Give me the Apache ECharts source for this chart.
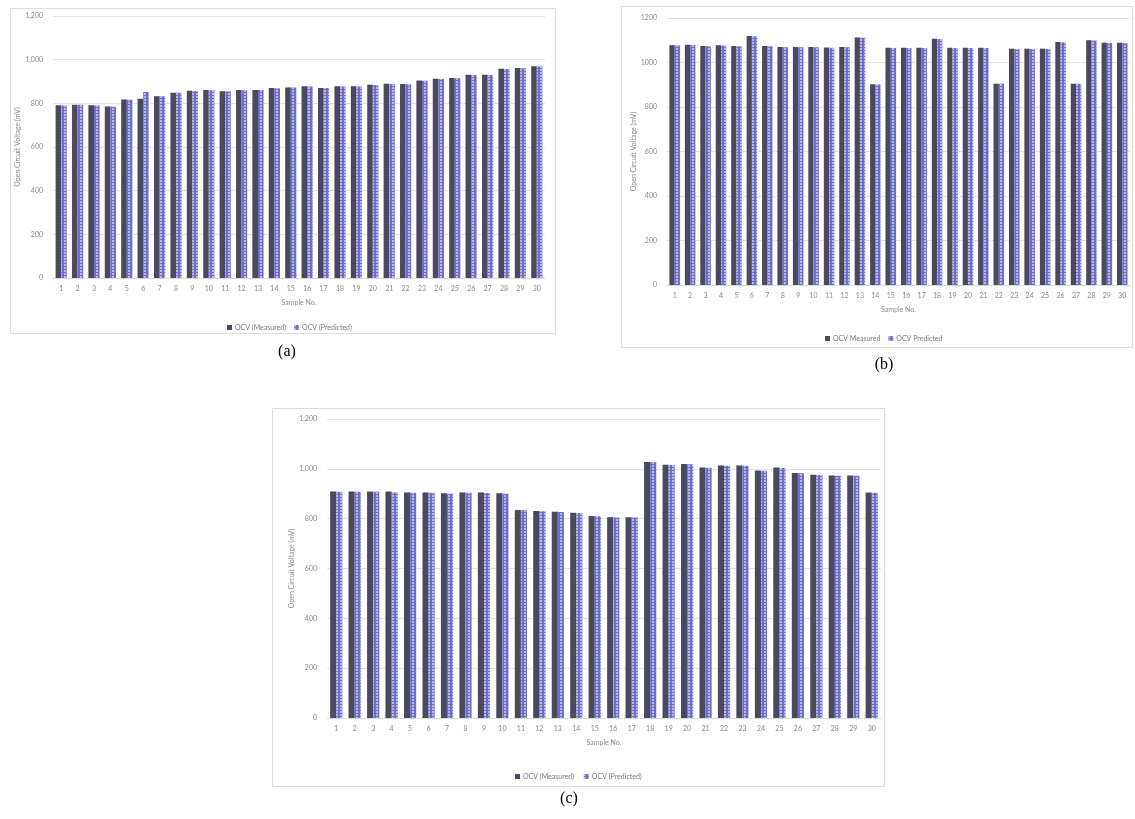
<!DOCTYPE html>
<html>
<head>
<meta charset="utf-8">
<script src="https://cdn.jsdelivr.net/npm/echarts@6/dist/echarts.min.js"></script>
<style>
  html, body { margin: 0; padding: 0; background: #fff; }
  #chart { width: 1135px; height: 819px; }
</style>
</head>
<body>
<div id="chart"></div>
<script>
// Sample numbers shared by all three panels
const samples = ['1','2','3','4','5','6','7','8','9','10','11','12','13','14','15',
  '16','17','18','19','20','21','22','23','24','25','26','27','28','29','30'];

// Panel (a) open circuit voltage, mV
const aMeasured  = [791,794,791,786,817,821,833,849,858,861,855,861,861,870,873,878,870,878,878,885,890,888,905,913,916,931,931,958,962,970];
const aPredicted = [790,793,790,784,816,852,832,848,857,860,855,860,861,869,872,877,870,877,877,884,889,887,904,912,915,930,930,957,961,969];

// Panel (b) open circuit voltage, mV
const bMeasured  = [1077,1080,1074,1077,1074,1119,1074,1070,1070,1070,1067,1070,1112,902,1066,1066,1066,1107,1066,1066,1066,905,1062,1062,1062,1092,905,1100,1089,1089];
const bPredicted = [1076,1079,1073,1076,1073,1118,1073,1069,1069,1069,1066,1069,1111,901,1065,1065,1065,1106,1065,1065,1065,904,1061,1061,1061,1091,904,1099,1088,1088];

// Panel (c) open circuit voltage, mV
const cMeasured  = [909,909,909,909,905,905,902,905,905,902,835,831,828,824,811,806,806,1027,1016,1019,1005,1013,1013,993,1005,983,976,973,973,905];
const cPredicted = [908,908,908,905,904,904,900,904,903,900,834,830,827,823,810,805,805,1026,1015,1018,1004,1012,1012,992,1003,982,975,972,972,904];

// Y axis ticks
const yMin = 0, yMax = 1200, yStep = 200;

const names = {
  a: ['OCV (Measured)', 'OCV (Predicted)'],
  b: ['OCV Measured', 'OCV Predicted'],
  c: ['OCV (Measured) ', 'OCV (Predicted) ']
};

const FONT = 'Lato, "Open Sans", sans-serif';
const MEAS_COLOR = '#4b4b55';
const PRED_COLOR = '#6e6ed2';

function xAxis(gridIndex) {
  return {
    type: 'category', gridIndex, data: samples,
    name: 'Sample No.', nameLocation: 'middle', nameGap: 21,
    nameTextStyle: { fontFamily: FONT, fontSize: 7, color: '#8a8a8a' },
    axisLine: { lineStyle: { color: '#d9d9d9' } },
    axisTick: { show: false },
    axisLabel: { fontFamily: FONT, fontSize: 7, color: '#8a8a8a', margin: 7, interval: 0 }
  };
}

function yAxis(gridIndex, comma) {
  return {
    type: 'value', gridIndex, min: yMin, max: yMax, interval: yStep,
    name: 'Open Circuit Voltage (mV)', nameLocation: 'middle', nameGap: 28,
    nameTextStyle: { fontFamily: FONT, fontSize: 7, color: '#8a8a8a' },
    axisLine: { show: false }, axisTick: { show: false },
    splitLine: { lineStyle: { color: '#e3e3e3', width: 1 } },
    axisLabel: {
      fontFamily: FONT, fontSize: 7, color: '#8a8a8a', margin: 10,
      formatter: v => comma ? v.toLocaleString('en-US') : String(v)
    }
  };
}

function barPair(idx, nm, meas, pred, gap) {
  return [
    {
      name: nm[0], type: 'bar', xAxisIndex: idx, yAxisIndex: idx, data: meas,
      barGap: '0%', barCategoryGap: gap,
      itemStyle: {
        color: MEAS_COLOR,
        decal: { symbol: 'circle', symbolSize: 0.9, color: 'rgba(70,70,150,0.6)', dashArrayX: [2, 2], dashArrayY: [2, 1] }
      }
    },
    {
      name: nm[1], type: 'bar', xAxisIndex: idx, yAxisIndex: idx, data: pred,
      barGap: '0%', barCategoryGap: gap,
      itemStyle: {
        color: PRED_COLOR,
        decal: { symbol: 'circle', symbolSize: 0.9, color: 'rgba(255,255,255,0.75)', dashArrayX: [2, 2], dashArrayY: [2, 1] }
      }
    }
  ];
}

function legend(nm, left, top) {
  return {
    data: nm, left, top, itemWidth: 5, itemHeight: 5, itemGap: 8,
    icon: 'rect',
    textStyle: { fontFamily: FONT, fontSize: 7, color: '#7a7a7a', padding: [0, 0, 0, -2] }
  };
}

function frame(x, y, w, h) {
  return { type: 'rect', shape: { x, y, width: w, height: h }, style: { fill: 'none', stroke: '#dcdcdc', lineWidth: 1 }, silent: true };
}

function caption(text, x, y) {
  return { type: 'text', x, y, style: { text, font: '16px "Liberation Serif", serif', fill: '#000', textAlign: 'center', textVerticalAlign: 'middle' } };
}

const chart = echarts.init(document.getElementById('chart'), null, { renderer: 'canvas' });
chart.setOption({
  backgroundColor: '#fff',
  animation: false,
  grid: [
    { left: 53, right: 1135 - 545, top: 16, bottom: 819 - 278 },
    { left: 667, right: 1135 - 1130, top: 18, bottom: 819 - 285 },
    { left: 327, right: 1135 - 881, top: 419, bottom: 819 - 718 }
  ],
  xAxis: [xAxis(0), xAxis(1), xAxis(2)],
  yAxis: [yAxis(0, true), yAxis(1, false), yAxis(2, true)],
  legend: [legend(names.a, 222, 319), legend(names.b, 820, 330), legend(names.c, 510, 768)],
  series: [
    ...barPair(0, names.a, aMeasured, aPredicted, '32%'),
    ...barPair(1, names.b, bMeasured, bPredicted, '32%'),
    ...barPair(2, names.c, cMeasured, cPredicted, '34%')
  ],
  graphic: [
    frame(10.5, 8.5, 545, 325),
    frame(621.5, 6.5, 511, 341),
    frame(272.5, 408.5, 612, 378),
    caption('(a)', 287, 352),
    caption('(b)', 884, 365),
    caption('(c)', 569, 799)
  ]
});
</script>
</body>
</html>
